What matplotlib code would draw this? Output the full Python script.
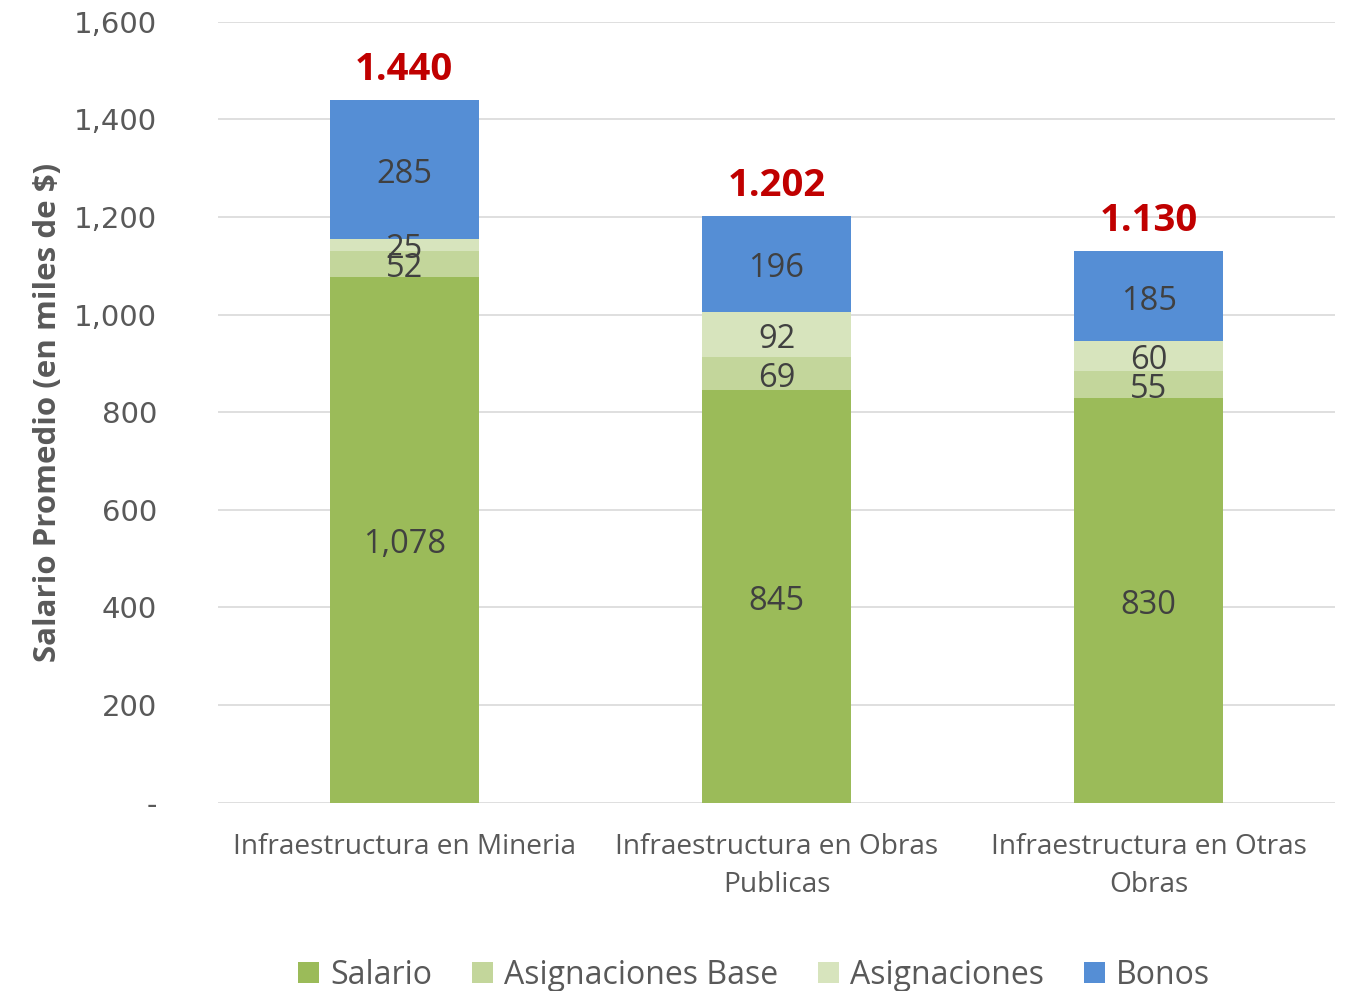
import matplotlib.pyplot as plt
import numpy as np
from matplotlib.ticker import FuncFormatter

categorias = ["Infraestructura en Mineria", "Infraestructura en Obras\nPublicas",
              "Infraestructura en Otras\nObras"]
salario = [1078, 845, 830]
asig_base = [52, 69, 55]
asignaciones = [25, 92, 60]
bonos = [285, 196, 185]
totales = ["1.440", "1.202", "1.130"]

series = [("Salario", salario, "#9BBB59"),
          ("Asignaciones Base", asig_base, "#C3D69B"),
          ("Asignaciones", asignaciones, "#D7E4BD"),
          ("Bonos", bonos, "#558ED5")]

plt.rcParams['font.family'] = ['Open Sans', 'DejaVu Sans']

fig = plt.figure(figsize=(13.47, 9.91), dpi=100)
ax = fig.add_axes([0.162, 0.190, 0.829, 0.788])

x = np.arange(len(categorias))
bottom = np.zeros(len(categorias))
for nombre, vals, color in series:
    bars = ax.bar(x, vals, 0.4, bottom=bottom, color=color, label=nombre, zorder=3)
    etiquetas = ax.bar_label(bars, labels=[f"{v:,}" for v in vals], label_type="center",
                             fontsize=23.5, color="#404040", zorder=4)
    for t in etiquetas:
        t.xyann = (0, -3.5)  # a touch lower, like the original
    bottom += np.array(vals)

for xi, tot, t in zip(x, bottom, totales):
    ax.annotate(t, (xi, tot), xytext=(0, 8), textcoords="offset points",
                ha="center", va="bottom", fontsize=27.5, fontweight="bold", color="#C00000")

ax.set_xlim(-0.5, 2.5)
ax.set_ylim(0, 1600)
ax.set_yticks(range(0, 1601, 200))
ax.yaxis.set_major_formatter(FuncFormatter(lambda v, p: "-" if v == 0 else f"{int(v):,}"))
ax.grid(axis="y", color="#D9D9D9", linewidth=1.2, zorder=0)
for s in ax.spines.values():
    s.set_visible(False)
ax.tick_params(axis="both", length=0)
ax.tick_params(axis="y", labelsize=21, labelcolor="#595959", pad=44)
for lab in ax.get_yticklabels():
    lab.set_family("DejaVu Sans")
ax.set_xticks(x)
ax.set_xticklabels(categorias, fontsize=20.2, color="#595959", linespacing=1.45)
ax.tick_params(axis="x", pad=22)

ax.set_ylabel("Salario Promedio (en miles de $)", fontsize=22.5, fontweight="bold",
              color="#595959", labelpad=8)

ax.legend(loc="lower center", bbox_to_anchor=(0.48, -0.279), ncol=4, frameon=False,
          fontsize=23, labelcolor="#595959", handlelength=0.65, handleheight=0.65,
          handletextpad=0.35, columnspacing=1.25)

fig.savefig("out.png", dpi=100)
